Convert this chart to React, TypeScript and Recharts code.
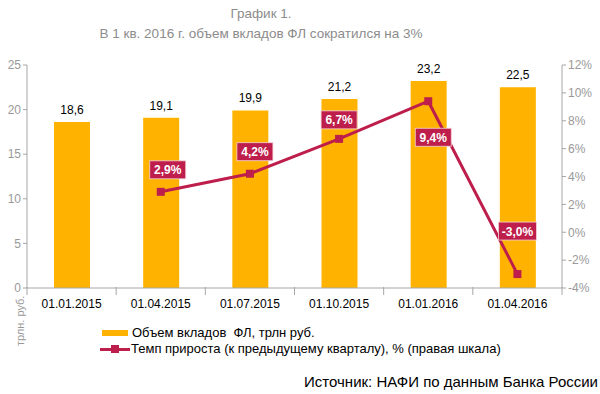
import {
  ComposedChart,
  Bar,
  Line,
  XAxis,
  YAxis,
  LabelList,
} from "recharts"

const dates = ["01.01.2015", "01.04.2015", "01.07.2015", "01.10.2015", "01.01.2016", "01.04.2016"]
const deposits = [18.6, 19.1, 19.9, 21.2, 23.2, 22.5]
const growth: (number | null)[] = [null, 2.9, 4.2, 6.7, 9.4, -3.0]
const leftTicks = [0, 5, 10, 15, 20, 25]
const rightTicks = [-4, -2, 0, 2, 4, 6, 8, 10, 12]

const data = dates.map((d, i) => ({ date: d, deposits: deposits[i], growth: growth[i] }))

const BAR_COLOR = "#FFB300"
const LINE_COLOR = "#BE1E4B"
const AXIS_COLOR = "#a6a6a6"
const FONT = "'Liberation Sans', Arial, sans-serif"

const comma = (v: number) => v.toFixed(1).replace(".", ",")

// plot area spans x 27..562, six bands
const BAND = (562 - 27) / dates.length

const XTick = ({ x, y, payload, index }: any) => (
  <g>
    <line x1={x - BAND / 2} x2={x - BAND / 2} y1={y - 9} y2={y - 1} stroke={AXIS_COLOR} />
    {index === dates.length - 1 && (
      <line x1={x + BAND / 2} x2={x + BAND / 2} y1={y - 9} y2={y - 1} stroke={AXIS_COLOR} />
    )}
    <text x={x} y={y + 12} textAnchor="middle" fontSize={12} fill="#000" fontFamily={FONT}>
      {payload.value}
    </text>
  </g>
)

// growth labels: boxed, mostly above the point, below at the peak
const GrowthLabel = ({ x, y, value, index }: any) => {
  if (value === null || value === undefined) return null
  let dx = 0
  let dy = -22
  if (index === 1) dx = 7
  if (index === 2) dx = 5
  if (index === 3) dy = -19
  if (index === 4) { dy = 36; dx = 5 }
  if (index === 5) dy = -43
  const cx = x + dx
  const cy = y + dy
  const txt = comma(value) + "%"
  const w = txt.length > 4 ? 38 : 36
  return (
    <g>
      <rect x={cx - w / 2} y={cy - 9} width={w} height={18} fill={LINE_COLOR} stroke="#f3d2da" strokeWidth={0.8} />
      <text x={cx} y={cy + 4.5} textAnchor="middle" fontSize={12} fontWeight="bold" fill="#fff" fontFamily={FONT}>
        {txt}
      </text>
    </g>
  )
}

const SquareDot = ({ cx, cy, value }: any) => {
  if (value === null || value === undefined || cx == null || cy == null) return null
  return <rect x={cx - 4} y={cy - 4} width={8} height={8} fill={LINE_COLOR} />
}

export default function App() {
  return (
    <div style={{ position: "absolute", left: 0, top: 0, width: 600, height: 394, background: "#fff", fontFamily: FONT }}>
      <div style={{ position: "absolute", left: 0, width: 522, top: 4, textAlign: "center", color: "#8c8c8c", fontSize: 13.5, lineHeight: "20px" }}>
        <div>График 1.</div>
        <div>В 1 кв. 2016 г. объем вкладов ФЛ сократился на 3%</div>
      </div>
      <div style={{ position: "absolute", left: 0, top: 0 }}>
        <ComposedChart width={600} height={394} data={data} margin={{ top: 65, right: 0, bottom: 76, left: 0 }}>
          <XAxis
            dataKey="date"
            height={30}
            stroke={AXIS_COLOR}
            tickLine={false}
            tick={<XTick />}
            interval={0}
          />
          <YAxis
            yAxisId="left"
            width={27}
            domain={[0, 25]}
            ticks={leftTicks}
            stroke={AXIS_COLOR}
            tickSize={4}
            tick={{ fill: "#999", fontSize: 12, fontFamily: FONT }}
          />
          <YAxis
            yAxisId="right"
            orientation="right"
            width={38}
            domain={[-4, 12]}
            ticks={rightTicks}
            stroke={AXIS_COLOR}
            tickSize={4}
            tickFormatter={(v: number) => `${v}%`}
            tick={{ fill: "#999", fontSize: 12, fontFamily: FONT }}
          />
          <Bar yAxisId="left" dataKey="deposits" fill={BAR_COLOR} barSize={36} isAnimationActive={false}>
            <LabelList
              dataKey="deposits"
              position="top"
              offset={8}
              formatter={(v: any) => comma(Number(v))}
              style={{ fill: "#000", fontSize: 12, fontFamily: FONT }}
            />
          </Bar>
          <Line
            yAxisId="right"
            dataKey="growth"
            stroke={LINE_COLOR}
            strokeWidth={3}
            dot={<SquareDot />}
            activeDot={false}
            isAnimationActive={false}
          >
            <LabelList dataKey="growth" content={<GrowthLabel />} />
          </Line>
        </ComposedChart>
      </div>
      <div style={{ position: "absolute", left: 14, top: 346, transform: "rotate(-90deg)", transformOrigin: "0 0", whiteSpace: "nowrap", fontSize: 11, color: "#999", lineHeight: "12px" }}>
        трлн. руб.
      </div>
      <div style={{ position: "absolute", left: 100, top: 325, fontSize: 13, color: "#000", lineHeight: "16px" }}>
        <div style={{ display: "flex", alignItems: "center" }}>
          <span style={{ display: "inline-block", width: 26, height: 6, background: BAR_COLOR, marginRight: 4, marginLeft: 2 }} />
          Объем вкладов&nbsp; ФЛ, трлн руб.
        </div>
        <div style={{ display: "flex", alignItems: "center" }}>
          <span style={{ position: "relative", display: "inline-block", width: 30, height: 16, marginRight: 1 }}>
            <span style={{ position: "absolute", left: 0, top: 6.5, width: 30, height: 3, background: LINE_COLOR }} />
            <span style={{ position: "absolute", left: 11, top: 4, width: 8, height: 8, background: LINE_COLOR }} />
          </span>
          Темп прироста (к предыдущему кварталу), % (правая шкала)
        </div>
      </div>
      <div style={{ position: "absolute", right: 2, top: 373, fontSize: 15, color: "#000", whiteSpace: "nowrap" }}>
        Источник: НАФИ по данным Банка России
      </div>
    </div>
  )
}
